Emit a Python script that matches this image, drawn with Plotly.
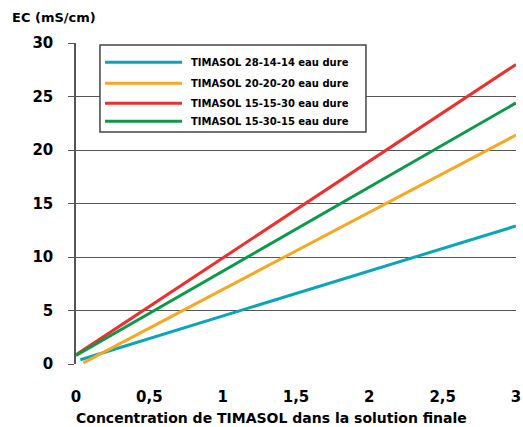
import plotly.graph_objects as go

series_names = ["TIMASOL 28-14-14 eau dure", "TIMASOL 20-20-20 eau dure",
                "TIMASOL 15-15-30 eau dure", "TIMASOL 15-30-15 eau dure"]
series_x = [[0.03, 3.0], [0.05, 3.0], [0.0, 3.0], [0.0, 3.0]]
series_y = [[0.4, 12.9], [0.1, 21.4], [0.85, 28.0], [0.8, 24.4]]
colors = ["#0aa5b8", "#f7a823", "#ec2f2f", "#0b9a4a"]
x_ticks = [0, 0.5, 1, 1.5, 2, 2.5, 3]
y_ticks = [0, 5, 10, 15, 20, 25, 30]

FONT = "Lato"
WIDE = "DejaVu Sans"
fig = go.Figure()
for name, xs, ys, c in zip(series_names, series_x, series_y, colors):
    fig.add_trace(go.Scatter(x=xs, y=ys, mode="lines", name=name,
                             line=dict(color=c, width=3), showlegend=False))

# manual legend
shapes = [dict(type="rect", xref="paper", yref="paper", x0=0.0545, x1=0.659,
               y0=0.723, y1=0.994, line=dict(color="#444", width=1.5),
               fillcolor="white", layer="above")]
annotations = []
rows = [0.940, 0.875, 0.812, 0.756]
for name, c, ry in zip(series_names, colors, rows):
    shapes.append(dict(type="line", xref="paper", yref="paper", x0=0.066, x1=0.241,
                       y0=ry, y1=ry, line=dict(color=c, width=3), layer="above"))
    annotations.append(dict(text=name, xref="paper", yref="paper", x=0.257, y=ry,
                            xanchor="left", yanchor="middle", showarrow=False,
                            font=dict(family=WIDE, size=10, color="black", weight="bold")))
annotations.append(dict(text="EC (mS/cm)", xref="paper", yref="paper", x=-0.15, y=1.078,
                        xanchor="left", yanchor="middle", showarrow=False,
                        font=dict(family=WIDE, size=13, color="black", weight="bold")))
annotations.append(dict(text="Concentration de TIMASOL dans la solution finale",
                        xref="paper", yref="paper", x=0.445, y=-0.168,
                        xanchor="center", yanchor="middle", showarrow=False,
                        font=dict(family=WIDE, size=14, color="black", weight="bold")))

fig.update_layout(
    width=523, height=427,
    margin=dict(l=76, r=7, t=43, b=63),
    paper_bgcolor="white", plot_bgcolor="white",
    separators=", ",
    shapes=shapes, annotations=annotations,
    font=dict(family=FONT, color="black"),
)
fig.update_xaxes(range=[0, 3], tickvals=x_ticks, showgrid=False, zeroline=False,
                 showline=False, ticks="", ticklabelstandoff=22, automargin=False,
                 ticklabeloverflow="allow",
                 tickfont=dict(family=WIDE, size=15, weight="bold"))
fig.update_yaxes(range=[0, 30], tickvals=y_ticks, showgrid=True, gridcolor="#555",
                 gridwidth=1, zeroline=False, showline=True, linecolor="#555",
                 linewidth=1.5, ticks="outside", ticklen=6, tickcolor="#555",
                 automargin=False,
                 tickfont=dict(family=WIDE, size=15, weight="bold"), ticklabelstandoff=12)
fig.write_html("out.html", config={"displayModeBar": False},
               post_script="document.body.style.margin='0';document.body.style.overflow='hidden';")
